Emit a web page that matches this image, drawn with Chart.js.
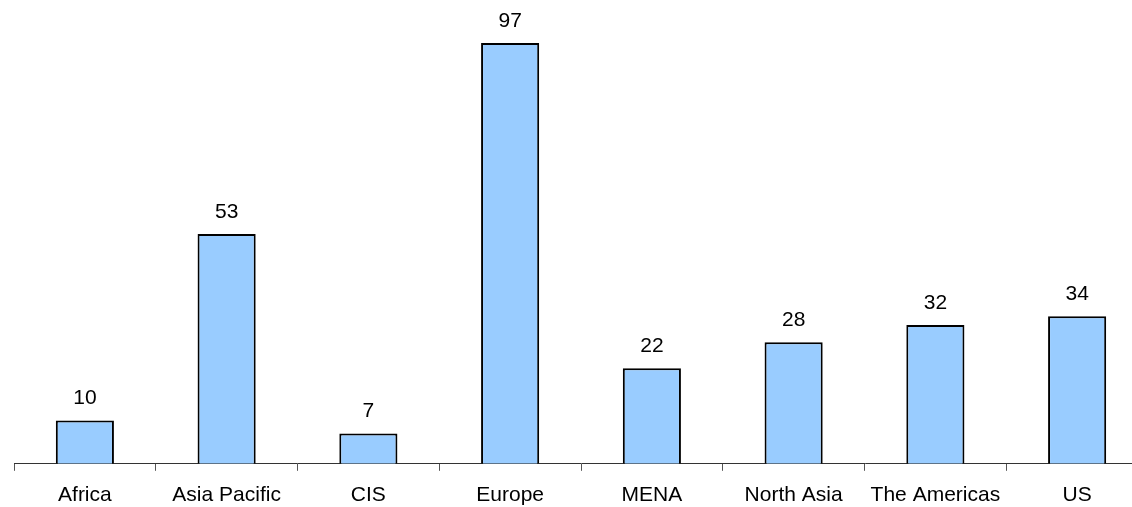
<!DOCTYPE html>
<html>
<head>
<meta charset="utf-8">
<script src="https://cdn.jsdelivr.net/npm/chart.js@4/dist/chart.umd.min.js"></script>
<style>
  html, body { margin:0; padding:0; background:#fff; overflow:hidden; }
  #boite { position:relative; width:1160px; height:520px; }
</style>
</head>
<body>
<div id="boite"><canvas id="graph"></canvas></div>
<script>
/* ---- données ---- */
const regions = ['Africa','Asia Pacific','CIS','Europe','MENA','North Asia','The Americas','US'];
const valeurs = [10, 53, 7, 97, 22, 28, 32, 34];

const police = "'Liberation Sans', Arial, sans-serif";

/* étiquettes de valeur au-dessus des barres */
const etiquettes = {
  id:'etiquettes',
  afterDatasetsDraw(ch){
    const ctx = ch.ctx;
    ctx.save();
    ctx.font = '21px ' + police;
    ctx.fillStyle = '#000';
    ctx.textAlign = 'center';
    ctx.textBaseline = 'alphabetic';
    ch.getDatasetMeta(0).data.forEach((b,i)=>{
      ctx.fillText(String(valeurs[i]), b.x, b.y - 16);
    });
    ctx.restore();
  }
};

new Chart(document.getElementById('graph'), {
  type:'bar',
  data:{ labels:regions, datasets:[{
    data:valeurs, backgroundColor:'#99ccff', borderColor:'#000', borderWidth:2,
    barPercentage:0.41, categoryPercentage:1
  }]},
  options:{
    responsive:true, maintainAspectRatio:false, animation:false,
    layout:{ padding:{ left:14, right:12, top:30, bottom:0 } },
    plugins:{ legend:{display:false}, tooltip:{enabled:false} },
    scales:{
      x:{
        offset:true,
        grid:{ offset:true, drawOnChartArea:false, drawTicks:true, tickLength:7, color:'#555', lineWidth:1 },
        border:{ display:true, color:'#333', width:1 },
        ticks:{ color:'#000', padding:12, font:{ family:police, size:21 }, maxRotation:0, autoSkip:false }
      },
      y:{ display:false, min:0, max:100 }
    }
  },
  plugins:[etiquettes]
});
</script>
</body>
</html>
